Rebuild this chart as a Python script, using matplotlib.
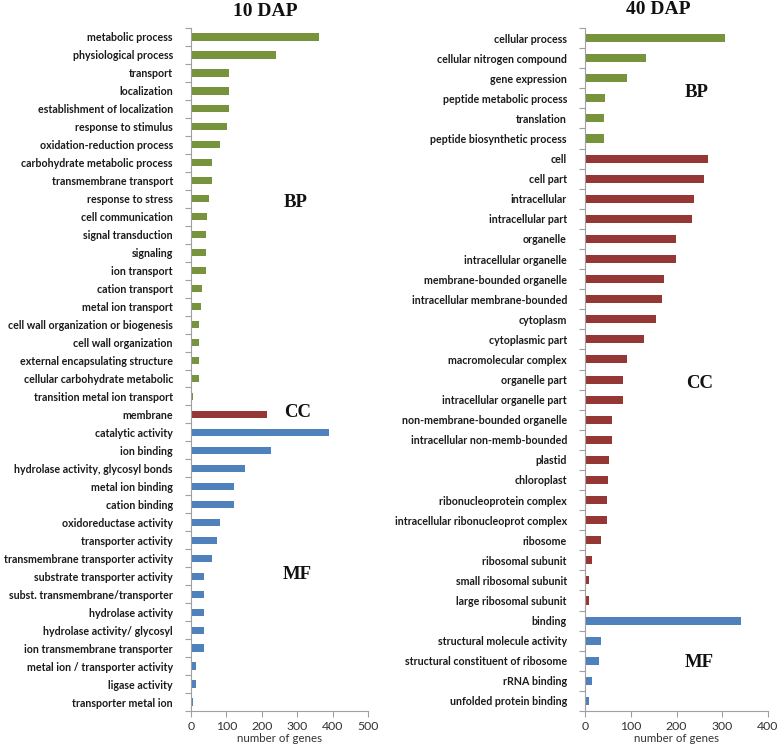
import numpy as np
import matplotlib
matplotlib.use("Agg")
import matplotlib.pyplot as plt
from matplotlib.ticker import FixedLocator

## colours (Excel-ish palette)
green = "#77933C"
red = "#953735"
blue = "#4F81BD"

## 10 DAP data
bp10 = ["metabolic process", "physiological process", "transport", "localization",
        "establishment of localization", "response to stimulus", "oxidation-reduction process",
        "carbohydrate metabolic process", "transmembrane transport", "response to stress",
        "cell communication", "signal transduction", "signaling", "ion transport",
        "cation transport", "metal ion transport", "cell wall organization or biogenesis",
        "cell wall organization", "external encapsulating structure",
        "cellular carbohydrate metabolic", "transition metal ion transport"]
bp10_val = [361, 239, 108, 108, 108, 101, 83, 60, 59, 51, 46, 43, 43, 43, 32, 27, 23, 23, 23, 22, 7]
cc10 = ["membrane"]
cc10_val = [216]
mf10 = ["catalytic activity", "ion binding", "hydrolase activity, glycosyl bonds",
        "metal ion binding", "cation binding", "oxidoreductase activity", "transporter activity",
        "transmembrane transporter activity", "substrate transporter activity",
        "subst. transmembrane/transporter", "hydrolase activity", "hydrolase activity/ glycosyl",
        "ion transmembrane transporter", "metal ion / transporter activity", "ligase activity",
        "transporter metal ion"]
mf10_val = [391, 226, 153, 122, 122, 83, 73, 58, 37, 37, 37, 37, 36, 15, 13, 6]

## 40 DAP data
bp40 = ["cellular process", "cellular nitrogen compound", "gene expression",
        "peptide metabolic process", "translation", "peptide biosynthetic process"]
bp40_val = [307, 134, 92, 43, 42, 42]
cc40 = ["cell", "cell part", "intracellular", "intracellular part", "organelle",
        "intracellular organelle", "membrane-bounded organelle", "intracellular membrane-bounded",
        "cytoplasm", "cytoplasmic part", "macromolecular complex", "organelle part",
        "intracellular organelle part", "non-membrane-bounded organelle",
        "intracellular non-memb-bounded", "plastid", "chloroplast", "ribonucleoprotein complex",
        "intracellular ribonucleoprot complex", "ribosome", "ribosomal subunit",
        "small ribosomal subunit", "large ribosomal subunit"]
cc40_val = [268, 261, 238, 234, 198, 198, 172, 169, 156, 129, 92, 82, 82, 59, 59, 52, 50,
            48, 48, 36, 15, 8, 8]
mf40 = ["binding", "structural molecule activity", "structural constituent of ribosome",
        "rRNA binding", "unfolded protein binding"]
mf40_val = [341, 34, 31, 15, 9]

W, H = 778, 748
fig = plt.figure(figsize=(W / 100, H / 100), dpi=100)
fig.patch.set_facecolor("white")

sans = ["Lato", "DejaVu Sans"]
lab_font = dict(family=sans, fontweight="bold", fontsize=7.7, color="#1a1a1a")
serif = dict(family=["Liberation Serif", "DejaVu Serif"], fontweight="bold", color="#111111")


def panel(rect, groups, xmax, tags):
    ax = fig.add_axes(rect)
    labels, vals, cols = [], [], []
    for names, v, c in groups:
        labels += names
        vals += v
        cols += [c] * len(names)
    n = len(labels)
    y = np.arange(n)
    ax.barh(y, vals, height=0.4, color=cols)
    ax.set_ylim(n - 0.5, -0.5)
    ax.set_xlim(0, xmax)
    ax.set_yticks(y)
    ax.set_yticklabels(labels, **lab_font)
    ## little ticks between the categories, like the excel original
    ax.yaxis.set_minor_locator(FixedLocator(np.arange(-0.5, n, 1.0)))
    ax.tick_params(axis="y", which="major", length=0, pad=13)
    ax.tick_params(axis="y", which="minor", length=4, color="#a0a0a0", width=0.8)
    ax.set_xticks(np.arange(0, xmax + 1, 100))
    ax.tick_params(axis="x", length=4, color="#a0a0a0", width=0.8, labelsize=8.8,
                   labelcolor="#333333", pad=3)
    for lab in ax.get_xticklabels():
        lab.set_family(sans)
    ax.set_xlabel("number of genes", fontsize=8.3, color="#333333", family=sans, labelpad=1)
    for s in ["top", "right"]:
        ax.spines[s].set_visible(False)
    for s in ["left", "bottom"]:
        ax.spines[s].set_color("#a0a0a0")
        ax.spines[s].set_linewidth(0.8)
    for txt, tx, ty in tags:
        ax.text(tx, ty, txt, ha="center", va="center", fontsize=13.5, **serif)
    return ax


ax1 = panel([191 / W, (H - 711) / H, 177 / W, 683 / H],
            [(bp10, bp10_val, green), (cc10, cc10_val, red), (mf10, mf10_val, blue)], 500,
            [("BP", 297, 9.2), ("CC", 300, 20.9), ("MF", 300, 29.9)])
ax2 = panel([585 / W, (H - 711) / H, 183 / W, 683 / H],
            [(bp40, bp40_val, green), (cc40, cc40_val, red), (mf40, mf40_val, blue)], 400,
            [("BP", 245, 2.7), ("CC", 250, 17.2), ("MF", 250, 31.1)])

fig.text(265 / W, 1 - 11 / H, "10 DAP", ha="center", va="center", fontsize=14, **serif)
fig.text(658 / W, 1 - 9 / H, "40 DAP", ha="center", va="center", fontsize=14, **serif)

fig.savefig("out.png", dpi=100, facecolor="white")
